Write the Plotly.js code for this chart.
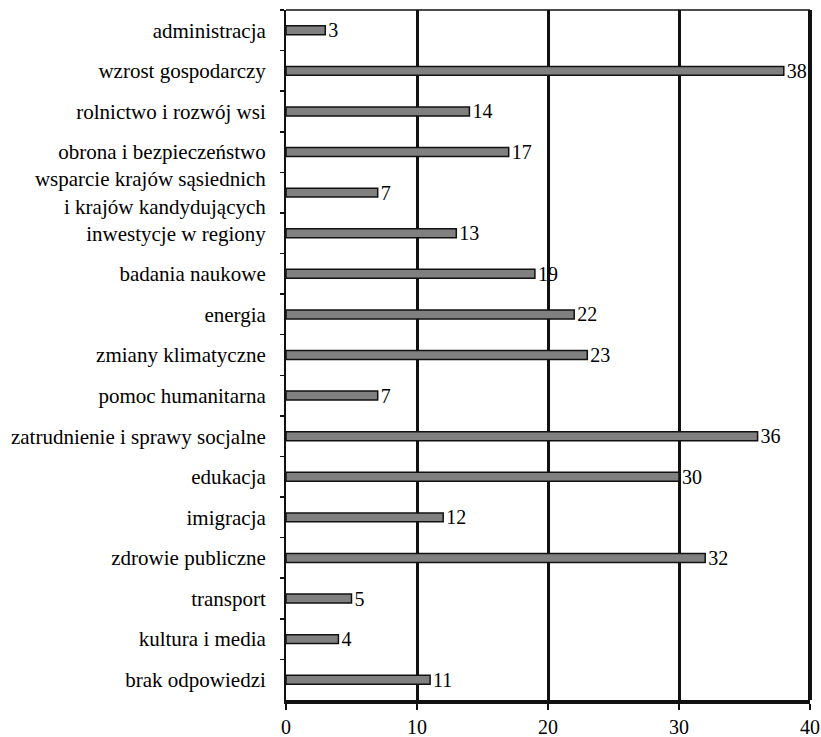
<!DOCTYPE html>
<html>
<head>
<meta charset="utf-8">
<script src="https://cdn.plot.ly/plotly-3.0.1.min.js"></script>
<style>html,body{margin:0;padding:0;background:#fff;}#chart{width:821px;height:737px;}</style>
</head>
<body>
<div id="chart"></div>
<script>
const categories = [
  "administracja",
  "wzrost gospodarczy",
  "rolnictwo i rozwój wsi",
  "obrona i bezpieczeństwo",
  "wsparcie krajów sąsiednich<br>i krajów kandydujących",
  "inwestycje w regiony",
  "badania naukowe",
  "energia",
  "zmiany klimatyczne",
  "pomoc humanitarna",
  "zatrudnienie i sprawy socjalne",
  "edukacja",
  "imigracja",
  "zdrowie publiczne",
  "transport",
  "kultura i media",
  "brak odpowiedzi"
];
const values = [3, 38, 14, 17, 7, 13, 19, 22, 23, 7, 36, 30, 12, 32, 5, 4, 11];
const xTicks = [0, 10, 20, 30, 40];

const font = "'Liberation Serif', 'Times New Roman', serif";
const labelFont = {family: font, size: 20, color: "#000"};

const trace = {
  type: "bar",
  orientation: "h",
  y: categories,
  x: values,
  text: values.map(String),
  textposition: "outside",
  constraintext: "none",
  cliponaxis: false,
  textfont: labelFont,
  outsidetextfont: labelFont,
  marker: {color: "#808080", line: {color: "#111", width: 1.5}},
  width: 0.22,
  hoverinfo: "none"
};

const layout = {
  width: 821, height: 737,
  margin: {l: 286, r: 11, t: 10, b: 37},
  paper_bgcolor: "#fff", plot_bgcolor: "#fff",
  showlegend: false,
  font: {family: font, size: 20, color: "#000"},
  xaxis: {
    range: [0, 40],
    tickvals: xTicks,
    ticktext: xTicks.map(String),
    showgrid: true, gridcolor: "#111", gridwidth: 3,
    zeroline: false,
    showline: true, linecolor: "#111", linewidth: 4,
    ticks: "outside", ticklen: 6, tickwidth: 1.5, tickcolor: "#111",
    tickfont: {family: font, size: 20, color: "#000"},
    fixedrange: true
  },
  yaxis: {
    autorange: "reversed",
    type: "category",
    showgrid: false, zeroline: false,
    showline: true, linecolor: "#111", linewidth: 2,
    ticks: "outside", tickson: "boundaries", ticklen: 4, tickwidth: 1.5, tickcolor: "#111",
    ticklabelstandoff: 14,
    tickfont: {family: font, size: 21, color: "#000"},
    fixedrange: true
  },
  shapes: [
    {type: "line", xref: "paper", yref: "paper", x0: 0, x1: 1, y0: 1, y1: 1, line: {color: "#111", width: 1.5}},
    {type: "line", xref: "paper", yref: "paper", x0: 1, x1: 1, y0: 0, y1: 1, line: {color: "#111", width: 4}}
  ]
};

Plotly.newPlot("chart", [trace], layout, {staticPlot: true, displayModeBar: false});
</script>
</body>
</html>
